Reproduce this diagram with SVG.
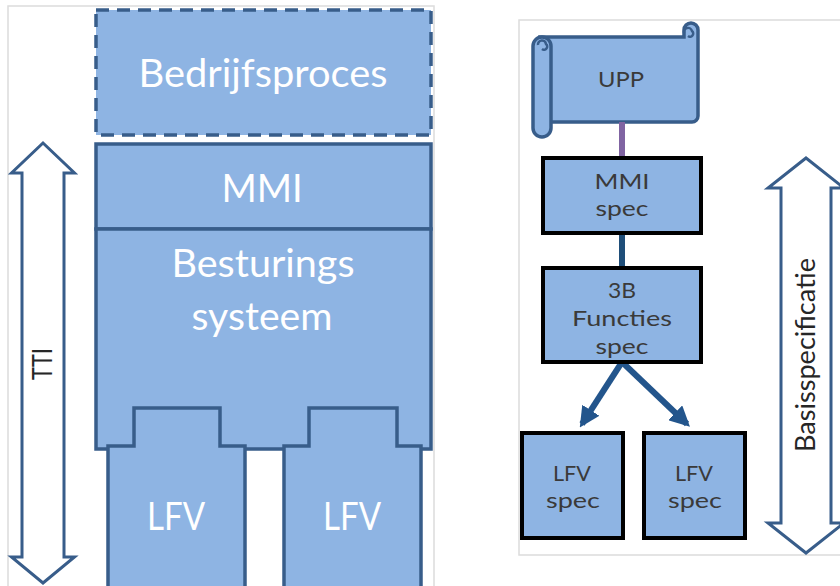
<svg xmlns="http://www.w3.org/2000/svg" width="840" height="586" viewBox="0 0 840 586">
  <style>
    .panel { fill: #ffffff; stroke: #dcdcdc; stroke-width: 1.5; }
    .block { fill: #8eb4e3; stroke: #385d8a; stroke-width: 3.5; stroke-linejoin: miter; }
    .dashed { stroke-dasharray: 13 8; }
    .spec { fill: #8eb4e3; stroke: #000000; stroke-width: 4; }
    .big { font-family: Lato, "Liberation Sans", sans-serif; font-size: 38px; fill: #ffffff; text-anchor: middle; }
    .small { font-family: Lato, "Liberation Sans", sans-serif; font-size: 22px; fill: #3a3a3a; text-anchor: middle; }
    .side { font-family: Lato, "Liberation Sans", sans-serif; font-size: 26px; fill: #262626; text-anchor: middle; }
    .range { fill: #ffffff; stroke: #385d8a; stroke-width: 3; stroke-linejoin: miter; }
    .link { fill: none; stroke-width: 6; }
  </style>
  <defs>
    <marker id="head" viewBox="0 0 10 10" refX="8" refY="5" markerWidth="3.4" markerHeight="3.4" orient="auto" markerUnits="strokeWidth">
      <path d="M0,0 L10,5 L0,10 Z" fill="#23558c"/>
    </marker>
  </defs>

  <rect width="840" height="586" fill="#ffffff"/>

  <!-- left panel: layered system view -->
  <path class="panel" d="M8,600 V6 H434 V600"/>

  <g id="bedrijfsproces">
    <rect class="block dashed" x="96" y="10" width="335" height="125"/>
    <text class="big" x="263" y="87" textLength="249" lengthAdjust="spacingAndGlyphs">Bedrijfsproces</text>
  </g>

  <g id="mmi">
    <rect class="block" x="96" y="144" width="335" height="85"/>
    <text class="big" x="262" y="202">MMI</text>
  </g>

  <g id="besturingssysteem">
    <rect class="block" x="96" y="229" width="335" height="220"/>
    <text class="big" x="263" y="277" textLength="183" lengthAdjust="spacingAndGlyphs">Besturings</text>
    <text class="big" x="262" y="330" textLength="141" lengthAdjust="spacingAndGlyphs">systeem</text>
  </g>

  <g id="lfv-left">
    <path class="block" d="M108,600 V446 H134 V408 H220 V446 H245 V600"/>
    <text class="big" x="176" y="530" textLength="58" lengthAdjust="spacingAndGlyphs">LFV</text>
  </g>

  <g id="lfv-right">
    <path class="block" d="M284,600 V446 H309 V408 H397 V446 H421 V600"/>
    <text class="big" x="352" y="530" textLength="58" lengthAdjust="spacingAndGlyphs">LFV</text>
  </g>

  <g id="tti">
    <path class="range" d="M43,143 L74.5,173 H64 V557 H74.5 L43,583 L11.5,557 H22 V173 H11.5 Z"/>
    <text class="side" transform="translate(52,364) rotate(-90)" textLength="32" lengthAdjust="spacingAndGlyphs">TTI</text>
  </g>

  <!-- right panel: specification tree -->
  <path class="panel" d="M850,20 H519 V555 H850"/>

  <g id="upp">
    <!-- scroll body with curled top-right corner -->
    <path class="block" d="M540,37 H684 V30 A7,7 0 0 1 698,30 V116 A6,6 0 0 1 692,122 H546 Z"/>
    <path fill="none" stroke="#385d8a" stroke-width="2.5" d="M684,33 A4,4 0 0 1 692,31 A3,3 0 0 1 688,36"/>
    <!-- left roll -->
    <rect class="block" x="533" y="37" width="18" height="100" rx="9"/>
    <path fill="none" stroke="#385d8a" stroke-width="2.5" d="M538,45 A4,4 0 0 1 546,44 A3,3 0 0 1 542,49"/>
    <text class="small" x="621" y="87" font-size="23" textLength="46" lengthAdjust="spacingAndGlyphs">UPP</text>
  </g>

  <g id="connectors">
    <line class="link" x1="622" y1="122" x2="622" y2="158" stroke="#8064a2"/>
    <line class="link" x1="622" y1="233" x2="622" y2="268" stroke="#1f4e79"/>
    <line class="link" x1="622" y1="362" x2="582" y2="424" stroke="#23558c" marker-end="url(#head)"/>
    <line class="link" x1="622" y1="362" x2="687" y2="424" stroke="#23558c" marker-end="url(#head)"/>
  </g>

  <g id="mmi-spec">
    <rect class="spec" x="543" y="158" width="158" height="75"/>
    <text class="small" x="622" y="189" textLength="55" lengthAdjust="spacingAndGlyphs">MMI</text>
    <text class="small" x="622" y="216" textLength="53" lengthAdjust="spacingAndGlyphs">spec</text>
  </g>

  <g id="functies-spec">
    <rect class="spec" x="543" y="268" width="158" height="94"/>
    <text class="small" x="622" y="298" textLength="28" lengthAdjust="spacingAndGlyphs">3B</text>
    <text class="small" x="622" y="326" textLength="100" lengthAdjust="spacingAndGlyphs">Functies</text>
    <text class="small" x="622" y="354" textLength="53" lengthAdjust="spacingAndGlyphs">spec</text>
  </g>

  <g id="lfv-spec-left">
    <rect class="spec" x="522" y="433" width="101" height="105"/>
    <text class="small" x="572" y="481" textLength="38" lengthAdjust="spacingAndGlyphs">LFV</text>
    <text class="small" x="573" y="508" textLength="54" lengthAdjust="spacingAndGlyphs">spec</text>
  </g>

  <g id="lfv-spec-right">
    <rect class="spec" x="644" y="433" width="101" height="105"/>
    <text class="small" x="694" y="481" textLength="38" lengthAdjust="spacingAndGlyphs">LFV</text>
    <text class="small" x="695" y="508" textLength="54" lengthAdjust="spacingAndGlyphs">spec</text>
  </g>

  <g id="basisspecificatie">
    <path class="range" d="M806,158 L844,188 H831 V523 H844 L806,553 L768,523 H781 V188 H768 Z"/>
    <text class="side" transform="translate(815,355) rotate(-90)" textLength="194" lengthAdjust="spacingAndGlyphs">Basisspecificatie</text>
  </g>
</svg>
